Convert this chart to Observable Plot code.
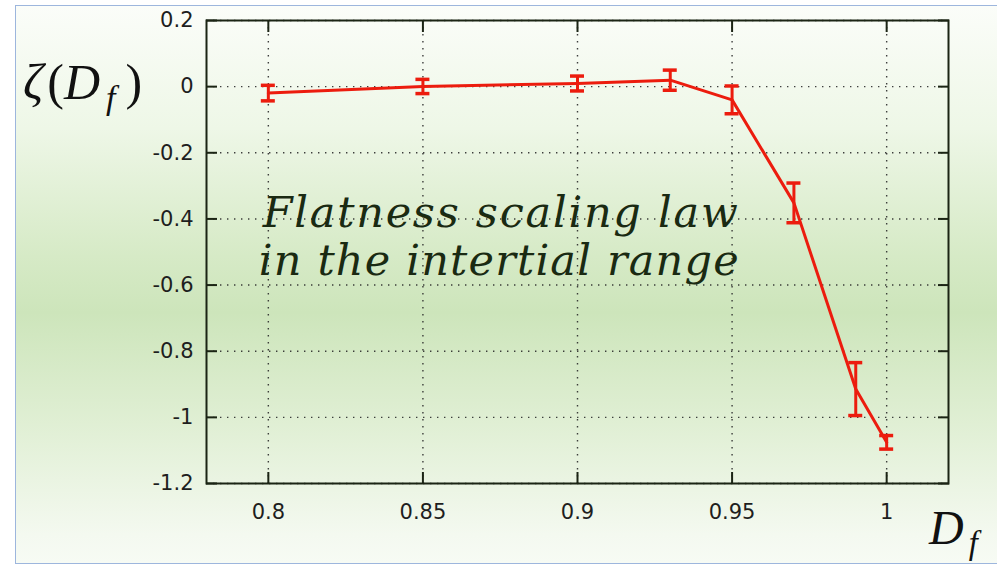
<!DOCTYPE html>
<html>
<head>
<meta charset="utf-8">
<script src="https://cdn.jsdelivr.net/npm/d3@7"></script>
<script src="https://cdn.jsdelivr.net/npm/@observablehq/plot@0.6"></script>
<style>
  html, body { margin: 0; padding: 0; background: #ffffff; }
  #wrap { position: relative; width: 997px; height: 565px; overflow: hidden; background: #ffffff; }
  #panel {
    position: absolute; left: 15px; top: 5px; width: 1000px; height: 557px;
    border: 1px solid #9db6dd;
    background: linear-gradient(to bottom, #fbfdf9 0%, #eef7e7 22%, #d6eac6 45%, #cde5bb 55%, #e0efd4 75%, #f4f9f0 95%, #f7fbf4 100%);
  }
  #chart { position: absolute; left: 0; top: 0; }
  .mathlab { position: absolute; font-family: "Liberation Serif", "DejaVu Serif", serif; color: #111; line-height: 1; white-space: nowrap; }
  .mathlab i { font-style: italic; }
  .mathlab sub { font-size: 0.68em; vertical-align: -0.3em; line-height: 0; font-style: italic; }
</style>
</head>
<body>
<div id="wrap">
  <div id="panel"></div>
  <div id="chart"></div>
  <div class="mathlab" id="ylab" style="left:23px; top:57px; font-size:50px;"><i>ζ</i><span style="margin-left:4px">(</span><i>D</i><sub style="margin-left:6px">f</sub><span style="margin-left:10px">)</span></div>
  <div class="mathlab" id="xlab" style="left:929px; top:504px; font-size:48px;"><i>D</i><sub style="margin-left:5px">f</sub></div>
</div>
<script>
// ---- data ----
const dfValues   = [0.8, 0.85, 0.9, 0.93, 0.95, 0.97, 0.99, 1.0];
const zetaValues = [-0.0195, 0.0005, 0.0095, 0.0195, -0.040, -0.3515, -0.9145, -1.0755];
const zetaErrors = [0.0235, 0.0215, 0.0225, 0.0305, 0.042, 0.060, 0.080, 0.0205];

const xTicks      = [0.8, 0.85, 0.9, 0.95, 1.0];
const xTickLabels = ["0.8", "0.85", "0.9", "0.95", "1"];
const yTicks      = [0.2, 0, -0.2, -0.4, -0.6, -0.8, -1.0, -1.2];
const yTickLabels = ["0.2", "0", "-0.2", "-0.4", "-0.6", "-0.8", "-1", "-1.2"];

const annLines = ["Flatness scaling law", "in the intertial range"];
const annX     = [0.875, 0.8745];
const annY     = [-0.384, -0.529];
const annWidth = [475, 480];

const rows = dfValues.map((x, i) => ({x, y: zetaValues[i], lo: zetaValues[i] - zetaErrors[i], hi: zetaValues[i] + zetaErrors[i]}));
const ann = annLines.map((t, i) => ({t, x: annX[i], y: annY[i]}));

const red = "#ec1c0e";
const ink = "#1b2414";

const chart = Plot.plot({
  width: 997,
  height: 565,
  marginLeft: 206,
  marginRight: 49,
  marginTop: 20,
  marginBottom: 82,
  style: {background: "transparent", fontFamily: "DejaVu Sans, sans-serif", fontSize: "21px", color: "#1e1e1e"},
  x: {domain: [0.78, 1.02]},
  y: {domain: [-1.2, 0.2]},
  marks: [
    Plot.gridX(xTicks, {stroke: "#2a2a2a", strokeOpacity: 0.9, strokeWidth: 1.4, strokeDasharray: "1.4,5.6"}),
    Plot.gridY(yTicks, {stroke: "#2a2a2a", strokeOpacity: 0.9, strokeWidth: 1.4, strokeDasharray: "1.4,5.6"}),
    Plot.text(ann, {x: "x", y: "y", text: "t", fontFamily: "DejaVu Serif, serif", fontStyle: "italic", fontSize: 43, fill: "#1a2a12", textAnchor: "middle", lineAnchor: "middle"}),
    Plot.frame({stroke: ink, strokeWidth: 2}),
    Plot.axisX(xTicks, {anchor: "bottom", tickSize: 0, tickPadding: 21, label: null, fontSize: 21, fill: "#1e1e1e", tickFormat: (d, i) => xTickLabels[i]}),
    Plot.axisX(xTicks, {anchor: "bottom", tickSize: 11, dy: -11, text: null, label: null, strokeWidth: 2, stroke: ink}),
    Plot.axisX(xTicks, {anchor: "top", tickSize: 11, dy: 11, text: null, label: null, strokeWidth: 2, stroke: ink}),
    Plot.axisY(yTicks, {anchor: "left", tickSize: 0, tickPadding: 13, label: null, fontSize: 21, fill: "#1e1e1e", tickFormat: (d, i) => yTickLabels[i]}),
    Plot.axisY(yTicks, {anchor: "left", tickSize: 11, dx: 11, text: null, label: null, strokeWidth: 2, stroke: ink}),
    Plot.axisY(yTicks, {anchor: "right", tickSize: 11, dx: -11, text: null, label: null, strokeWidth: 2, stroke: ink}),
    Plot.line(rows, {x: "x", y: "y", stroke: red, strokeWidth: 3}),
    Plot.ruleX(rows, {x: "x", y1: "lo", y2: "hi", stroke: red, strokeWidth: 3}),
    Plot.ruleY(rows, {y: "hi", x1: "x", x2: "x", insetLeft: -7, insetRight: -7, stroke: red, strokeWidth: 3.5}),
    Plot.ruleY(rows, {y: "lo", x1: "x", x2: "x", insetLeft: -7, insetRight: -7, stroke: red, strokeWidth: 3.5})
  ]
});
document.getElementById("chart").appendChild(chart);

// stretch the annotation lines to the measured widths
chart.querySelectorAll("text").forEach(el => {
  const idx = annLines.indexOf(el.textContent);
  if (idx >= 0) {
    el.setAttribute("textLength", annWidth[idx]);
    el.setAttribute("lengthAdjust", "spacing");
  }
});
</script>
</body>
</html>
